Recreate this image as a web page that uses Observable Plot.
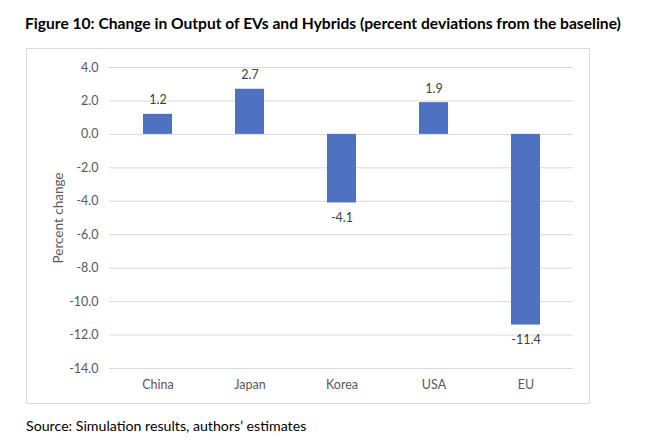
<!DOCTYPE html>
<html>
<head>
<meta charset="utf-8">
<script src="https://cdn.jsdelivr.net/npm/d3@7"></script>
<script src="https://cdn.jsdelivr.net/npm/@observablehq/plot@0.6"></script>
<style>
  html, body { margin: 0; padding: 0; background: #fff; }
  body { width: 647px; height: 443px; position: relative; overflow: hidden; font-family: Lato, "Open Sans", sans-serif; }
  #title { position: absolute; left: 25px; top: 14px; font-weight: bold; font-size: 15.6px; color: #000; white-space: nowrap; }
  #frame { position: absolute; left: 26px; top: 48px; width: 562px; height: 354px; border: 1px solid #d9d9d9; }
  #frame svg { display: block; }
  #source { position: absolute; left: 26px; top: 417px; font-size: 14.2px; color: #000; white-space: nowrap; }
</style>
</head>
<body>
<div id="title">Figure 10: Change in Output of EVs and Hybrids (percent deviations from the baseline)</div>
<div id="frame"></div>
<div id="source">Source: Simulation results, authors’ estimates</div>
<script>
const regions = ["China", "Japan", "Korea", "USA", "EU"];
const changes = [1.2, 2.7, -4.1, 1.9, -11.4];
const yTicks = [4, 2, 0, -2, -4, -6, -8, -10, -12, -14];
const yTitle = "Percent change";

const data = regions.map((r, i) => ({region: r, value: changes[i]}));
const fmt = d => d.toFixed(1);

const chart = Plot.plot({
  width: 562,
  height: 354,
  marginLeft: 82,
  marginRight: 16,
  marginTop: 18,
  marginBottom: 35,
  style: {fontFamily: "Lato, 'Open Sans', sans-serif", fontSize: "12.5px", color: "#595959", background: "#fff"},
  x: {domain: regions, paddingInner: 0.69, paddingOuter: 0.345, label: null},
  y: {domain: [-14, 4], label: null},
  marks: [
    Plot.gridY(yTicks, {stroke: "#d9d9d9", strokeOpacity: 1}),
    Plot.axisY(yTicks, {tickSize: 0, tickPadding: 11, tickFormat: fmt, fontSize: 12.5, fill: "#595959", label: null}),
    Plot.text([yTitle], {frameAnchor: "left", textAnchor: "middle", dx: -51, rotate: -90, fontSize: 13.5, fill: "#595959", text: d => d}),
    Plot.axisX({tickSize: 0, tickPadding: 12, fontSize: 12.5, fill: "#595959", label: null}),
    Plot.barY(data, {x: "region", y: "value", fill: "#4f71c1"}),
    Plot.text(data.filter(d => d.value >= 0), {x: "region", y: "value", text: d => fmt(d.value), dy: -14, fontSize: 12.5, fill: "#404040"}),
    Plot.text(data.filter(d => d.value < 0), {x: "region", y: "value", text: d => fmt(d.value), dy: 15, fontSize: 12.5, fill: "#404040"})
  ]
});
document.getElementById("frame").appendChild(chart);
</script>
</body>
</html>
